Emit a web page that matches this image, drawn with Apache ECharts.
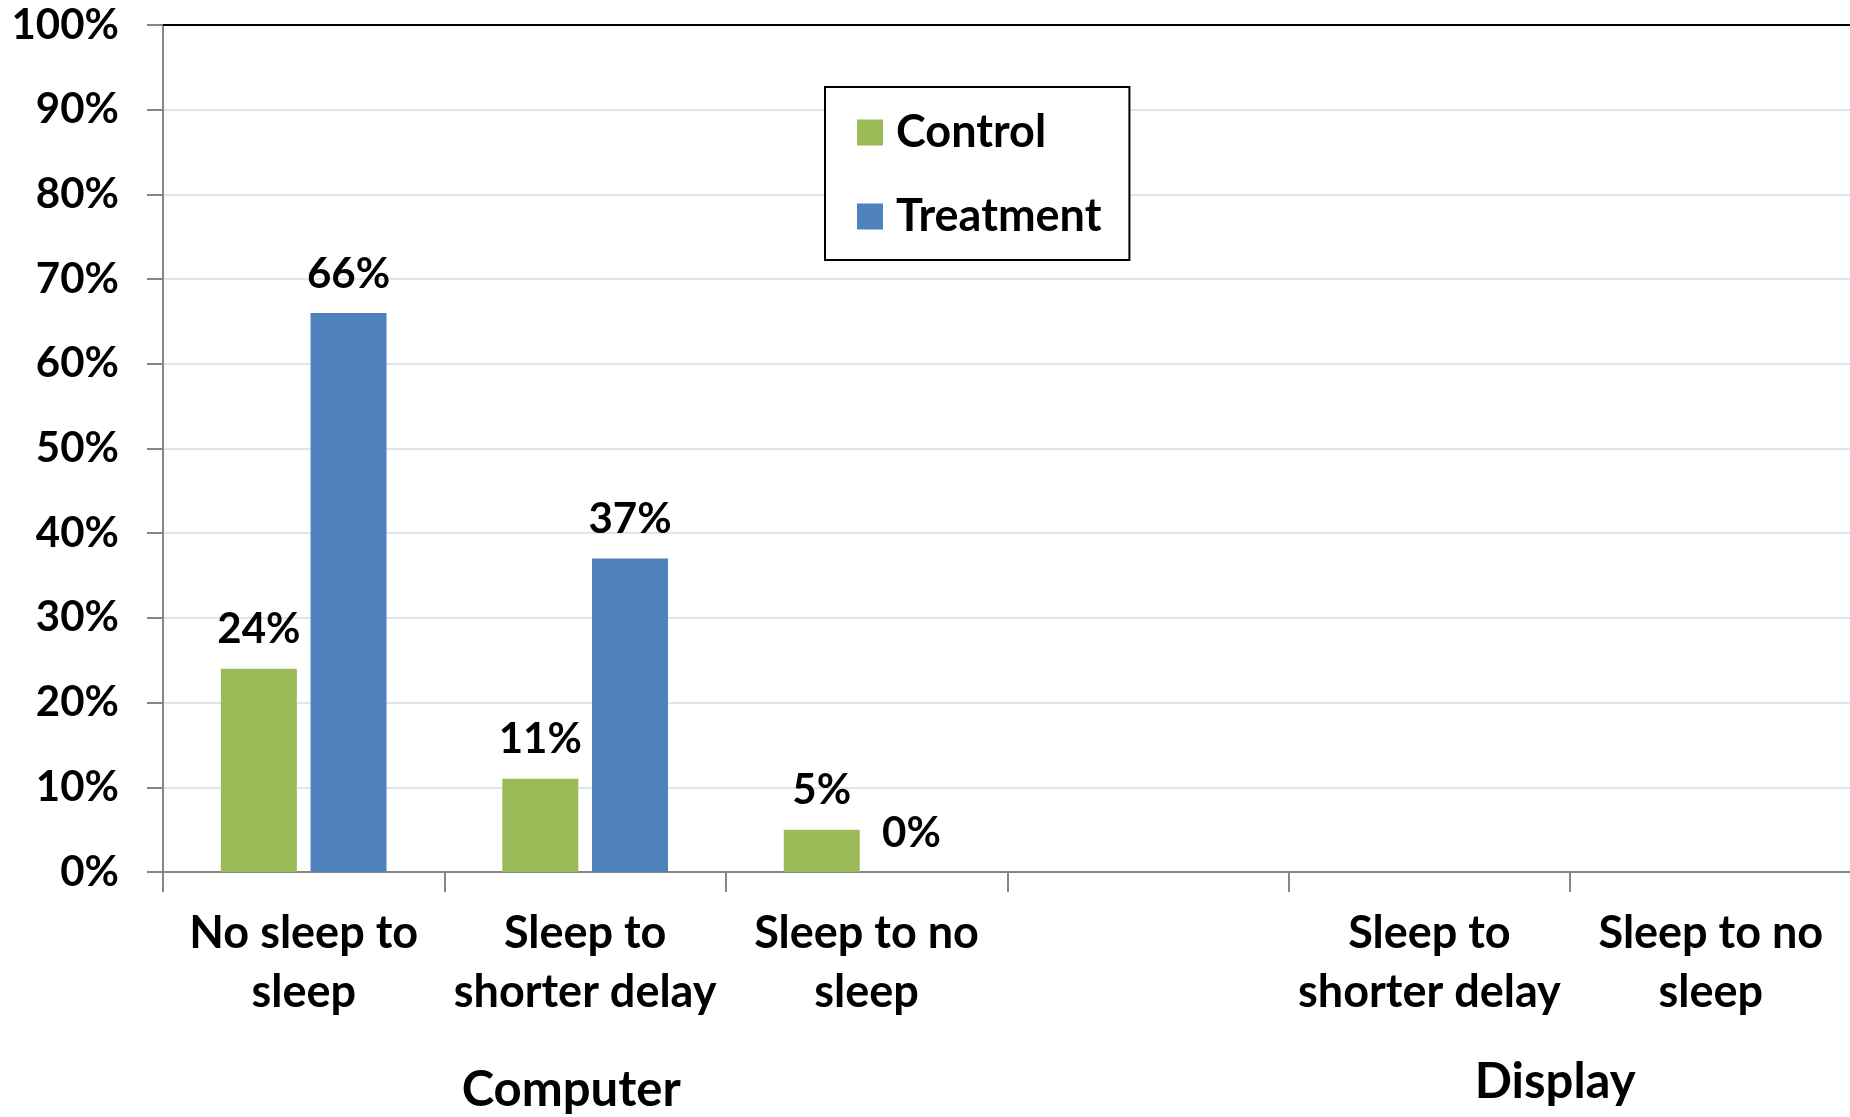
<!DOCTYPE html>
<html>
<head>
<meta charset="utf-8">
<title>Sleep setting changes: Control vs Treatment</title>
<script src="https://cdn.jsdelivr.net/npm/echarts@6/dist/echarts.min.js"></script>
<style>
  html, body { margin: 0; padding: 0; background: #ffffff; overflow: hidden; width: 1850px; height: 1117px; }
  #chart { width: 2200px; height: 1117px; }
</style>
</head>
<body>
<div id="chart"></div>
<script>
// Sub-category labels along the x axis (Computer: 3 settings, Display: 4 settings)
const categories = [
  'No sleep to\nsleep', 'Sleep to\nshorter delay', 'Sleep to no\nsleep',
  '', 'Sleep to\nshorter delay', 'Sleep to no\nsleep', ''
];
// Group labels and how many categories each group spans
const groupNames = ['Computer', 'Display'];
const groupSizes = [3, 4];

// Percent of machines changed, per category
const controlValues   = [24, 11, 5, null, null, null, null];
const treatmentValues = [66, 37, 0, null, null, null, null];

// Y axis ticks
const yTicks = [0, 10, 20, 30, 40, 50, 60, 70, 80, 90, 100];

const FONT = 'Lato';
const GREEN = '#9BBB59';
const BLUE = '#4F81BD';
const AXIS_GRAY = '#868686';

// centre position of each group on a 0..N value scale
const groupCenters = [];
let start = 0;
groupSizes.forEach(function (n) { groupCenters.push(start + n / 2); start += n; });
const totalCats = start;

const chart = echarts.init(document.getElementById('chart'), null, { renderer: 'canvas' });

const barLabel = {
  show: true,
  position: 'top',
  distance: 18,
  color: '#000',
  fontFamily: FONT,
  fontWeight: 'bold',
  fontSize: 42,
  lineHeight: 42,
  formatter: function (p) { return p.value == null ? '' : p.value + '%'; }
};

chart.setOption({
  animation: false,
  backgroundColor: '#ffffff',
  grid: { left: 163, top: 25, width: 1970, height: 847, containLabel: false },
  legend: {
    orient: 'vertical',
    left: 825,
    top: 87,
    padding: [23, 28, 21, 32],
    borderColor: '#000',
    borderWidth: 2,
    backgroundColor: '#fff',
    itemWidth: 26,
    itemHeight: 26,
    itemGap: 39,
    icon: 'rect',
    textStyle: { fontFamily: FONT, fontWeight: 'bold', fontSize: 45, lineHeight: 40, color: '#000', padding: [0, 0, 0, 8] },
    data: ['Control', 'Treatment']
  },
  xAxis: [
    {
      type: 'category',
      data: categories,
      position: 'bottom',
      boundaryGap: true,
      axisLine: { show: true, lineStyle: { color: AXIS_GRAY, width: 2 } },
      axisTick: { show: true, length: 20, lineStyle: { color: AXIS_GRAY, width: 2 } },
      axisLabel: {
        interval: 0,
        margin: 32,
        color: '#000',
        fontFamily: FONT,
        fontWeight: 'bold',
        fontSize: 45,
        lineHeight: 59
      },
      splitLine: { show: false }
    },
    {
      // group labels under the category labels
      type: 'value',
      position: 'bottom',
      min: 0,
      max: totalCats,
      interval: 0.5,
      axisLine: { show: false },
      axisTick: { show: false },
      splitLine: { show: false },
      axisLabel: {
        margin: 185,
        showMinLabel: true,
        showMaxLabel: true,
        formatter: function (v) {
          const i = groupCenters.indexOf(v);
          if (i === 0) return '{c|' + groupNames[0] + '}';
          if (i === 1) return '{d|' + groupNames[1] + '}';
          return '';
        },
        rich: {
          c: { fontFamily: FONT, fontWeight: 'bold', fontSize: 49, lineHeight: 50, color: '#000', padding: [16, 28, 0, 0] },
          d: { fontFamily: FONT, fontWeight: 'bold', fontSize: 49, lineHeight: 50, color: '#000', padding: [0, 30, 0, 0] }
        }
      }
    },
    {
      // black frame along the top of the plot area
      type: 'category',
      data: categories,
      position: 'top',
      axisLine: { show: true, lineStyle: { color: '#000', width: 2 } },
      axisTick: { show: false },
      axisLabel: { show: false },
      splitLine: { show: false }
    }
  ],
  yAxis: {
    type: 'value',
    min: yTicks[0],
    max: yTicks[yTicks.length - 1],
    interval: yTicks[1] - yTicks[0],
    axisLine: { show: true, lineStyle: { color: AXIS_GRAY, width: 2 } },
    axisTick: { show: true, length: 16, lineStyle: { color: AXIS_GRAY, width: 2 } },
    axisLabel: {
      margin: 44,
      color: '#000',
      fontFamily: FONT,
      fontWeight: 'bold',
      fontSize: 42,
      formatter: '{value}%'
    },
    splitLine: { show: true, lineStyle: { color: '#DCE6F2', width: 2 } }
  },
  series: [
    {
      name: 'Control',
      type: 'bar',
      xAxisIndex: 0,
      data: controlValues,
      barWidth: 76,
      barGap: '18%',
      itemStyle: { color: GREEN },
      label: barLabel
    },
    {
      name: 'Treatment',
      type: 'bar',
      xAxisIndex: 0,
      data: treatmentValues,
      barWidth: 76,
      barGap: '18%',
      itemStyle: { color: BLUE },
      label: barLabel
    }
  ]
});
</script>
</body>
</html>
